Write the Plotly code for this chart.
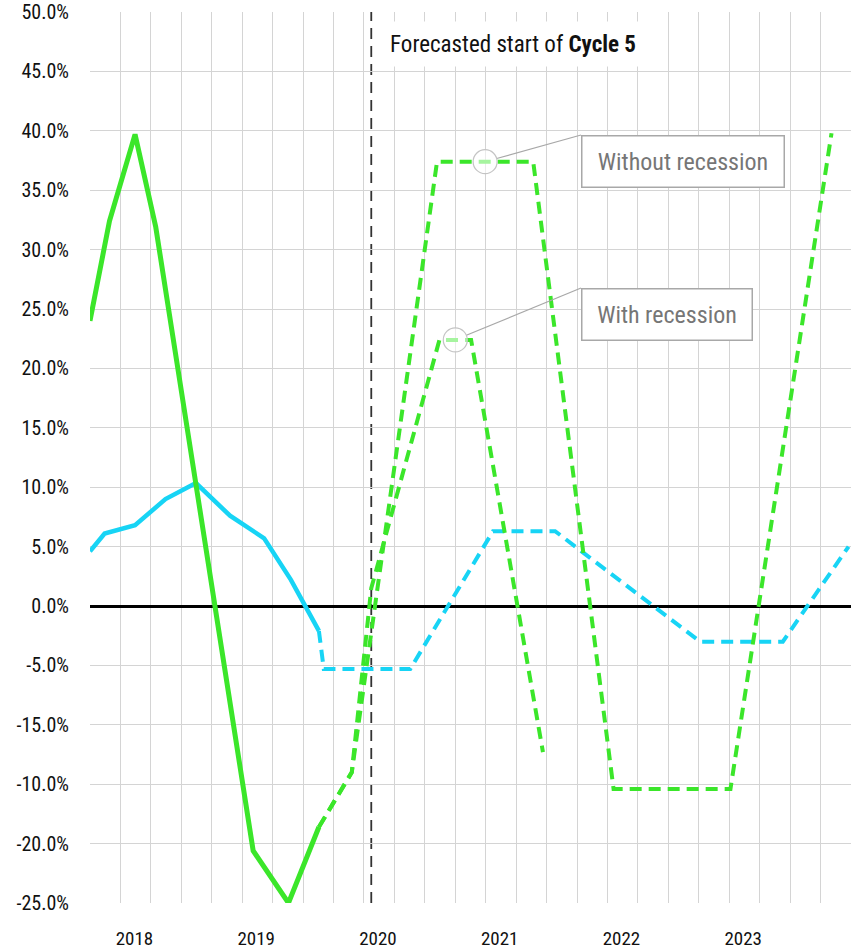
import plotly.graph_objects as go

# ---- data (decimal years, % change) ----
actual_x = [2017.75, 2017.91, 2018.12, 2018.29, 2019.09, 2019.38, 2019.63]
actual_y = [24.0, 32.4, 39.7, 31.9, -20.6, -25.0, -18.6]

no_rec_x = [2019.63, 2019.90, 2020.60, 2021.39, 2022.05, 2023.01, 2023.84]
no_rec_y = [-18.6, -14.0, 37.4, 37.4, -15.4, -15.4, 39.8]

rec_x = [2019.63, 2019.90, 2020.06, 2020.62, 2020.88, 2021.47]
rec_y = [-18.6, -14.0, 1.5, 22.4, 22.4, -12.3]

bench_x = [2017.75, 2017.87, 2018.12, 2018.37, 2018.62, 2018.90, 2019.18, 2019.40, 2019.63]
bench_y = [4.6, 6.1, 6.8, 9.0, 10.35, 7.6, 5.7, 2.2, -2.1]

bench_fc_x = [2019.63, 2019.67, 2020.38, 2021.06, 2021.57, 2022.76, 2023.44, 2023.98]
bench_fc_y = [-2.1, -5.3, -5.3, 6.3, 6.3, -3.0, -3.0, 5.0]

forecast_start = 2020.06

year_labels = ["2018", "2019", "2020", "2021", "2022", "2023"]
y_ticks = [50, 45, 40, 35, 30, 25, 20, 15, 10, 5, 0, -5, -10, -15, -20, -25]
y_tick_text = ["50.0%", "45.0%", "40.0%", "35.0%", "30.0%", "25.0%", "20.0%",
               "15.0%", "10.0%", "5.0%", "0.0%", "-5.0%", "-15.0%", "-10.0%",
               "-20.0%", "-25.0%"]

# ---- layout constants ----
W, H = 857, 951
ML, MR, MT, MB = 90, 6, 12, 48
XR = [2017.75, 2024.0]
YR = [-25, 50]
PW, PH = W - ML - MR, H - MT - MB

GREEN = "#3BE62A"
CYAN = "#17D4F5"
FONT = "Liberation Sans Narrow, Roboto Condensed, Arial Narrow, sans-serif"


def px_x(v):
    return ML + (v - XR[0]) / (XR[1] - XR[0]) * PW


def px_y(v):
    return MT + (YR[1] - v) / (YR[1] - YR[0]) * PH


def paper_x(p):
    return (p - ML) / PW


def paper_y(p):
    return 1 - (p - MT) / PH


fig = go.Figure()

fig.add_trace(go.Scatter(x=bench_x, y=bench_y, mode="lines",
                         line=dict(color=CYAN, width=4.5), hoverinfo="skip"))
fig.add_trace(go.Scatter(x=bench_fc_x, y=bench_fc_y, mode="lines",
                         line=dict(color=CYAN, width=4, dash="12px,7px"), hoverinfo="skip"))
fig.add_trace(go.Scatter(x=actual_x, y=actual_y, mode="lines",
                         line=dict(color=GREEN, width=5), hoverinfo="skip"))
fig.add_trace(go.Scatter(x=no_rec_x, y=no_rec_y, mode="lines",
                         line=dict(color=GREEN, width=4, dash="12px,7px"), hoverinfo="skip"))
fig.add_trace(go.Scatter(x=rec_x, y=rec_y, mode="lines",
                         line=dict(color=GREEN, width=4, dash="12px,7px"), hoverinfo="skip"))

shapes = [
    dict(type="line", xref="x", yref="paper", x0=forecast_start, x1=forecast_start,
         y0=0, y1=1, layer="between",
         line=dict(color="#333333", width=1.8, dash="11px,7px")),
]
annotations = [
    dict(text="Forecasted start of <b>Cycle 5</b>", xref="paper", yref="paper",
         x=paper_x(377), y=paper_y(44), xanchor="left", yanchor="middle",
         showarrow=False, bgcolor="white", width=270, height=44, borderpad=0,
         align="center", font=dict(family=FONT, size=23, color="#111111")),
]

# callouts on the flat tops of the two forecast scenarios
callouts = [
    ("Without recession", (no_rec_x[2] + no_rec_x[3]) / 2, no_rec_y[2], 581, 135, 204, 53),
    ("With recession", (rec_x[3] + rec_x[4]) / 2, rec_y[3], 581, 288, 172, 53),
]
R = 12
for label, cx, cy, bx, by, bw, bh in callouts:
    cpx, cpy = px_x(cx), px_y(cy)
    dx, dy = bx - cpx, cpy - by
    n = (dx ** 2 + dy ** 2) ** 0.5
    shapes.append(dict(type="line", xref="x", yref="y", xsizemode="pixel", ysizemode="pixel",
                       xanchor=cx, yanchor=cy, x0=R * dx / n, y0=R * dy / n, x1=dx, y1=dy,
                       line=dict(color="#a8a8a8", width=1.2)))
    shapes.append(dict(type="circle", xref="x", yref="y", xsizemode="pixel", ysizemode="pixel",
                       xanchor=cx, yanchor=cy, x0=-R, x1=R, y0=-R, y1=R,
                       fillcolor="rgba(255,255,255,0.55)",
                       line=dict(color="#c4c4c4", width=1.2)))
    annotations.append(dict(text=label, xref="paper", yref="paper",
                            x=paper_x(bx), y=paper_y(by), xanchor="left", yanchor="top",
                            showarrow=False, bgcolor="white", bordercolor="#a8a8a8",
                            borderwidth=1.5, borderpad=0, width=bw - 3, height=bh - 3,
                            align="center",
                            font=dict(family=FONT, size=24, color="#767676")))

fig.update_layout(
    width=W, height=H,
    margin=dict(l=ML, r=MR, t=MT, b=MB, pad=0, autoexpand=False),
    paper_bgcolor="white", plot_bgcolor="white",
    showlegend=False,
    font=dict(family=FONT, color="#111111"),
    shapes=shapes, annotations=annotations,
    xaxis=dict(
        range=XR, showline=False, zeroline=False, showgrid=False, automargin=False,
        tickmode="array", tickvals=[int(s) + 0.115 for s in year_labels], ticktext=year_labels,
        ticks="", ticklabelstandoff=22, tickfont=dict(family=FONT, size=19, color="#111111"),
        minor=dict(tickmode="linear", tick0=XR[0], dtick=0.25, showgrid=True,
                   gridcolor="#d4d4d4", gridwidth=1.4, ticks=""),
    ),
    yaxis=dict(
        range=YR, showline=False, automargin=False,
        tickmode="array", tickvals=y_ticks, ticktext=y_tick_text,
        ticks="", ticklabelstandoff=20, tickfont=dict(family=FONT, size=20, color="#111111"),
        showgrid=True, gridcolor="#d4d4d4", gridwidth=1.4,
        zeroline=True, zerolinecolor="#000000", zerolinewidth=2.6,
    ),
)

fig.write_html("out.html")
